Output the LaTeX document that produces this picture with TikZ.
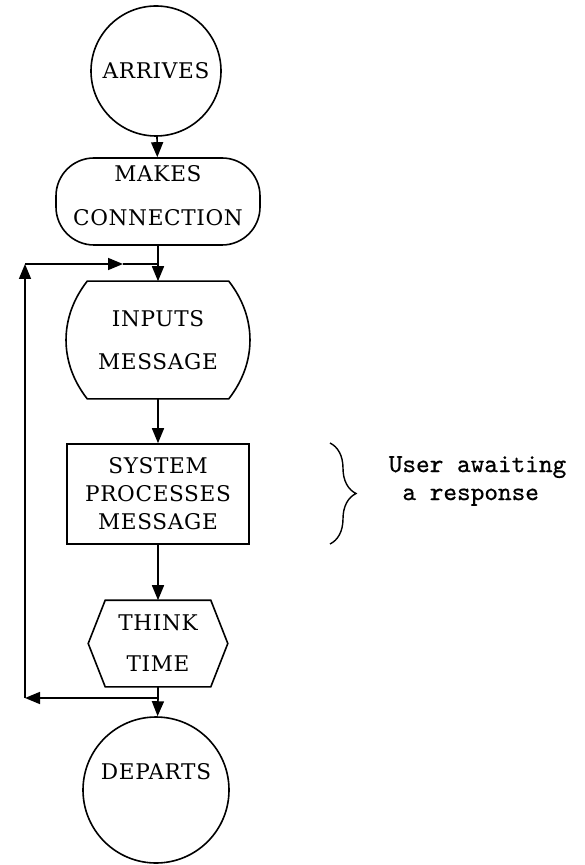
\documentclass[tikz,border=0pt]{standalone}
\usepackage{fontspec}
\usetikzlibrary{arrows.meta,decorations.pathreplacing}
% spaced serif capitals for the box texts
\newfontfamily\capsfont{DejaVu Serif}[LetterSpace=3]
\newfontfamily\notefont{lmmono10-regular}[Extension=.otf,FakeBold=0.6]
\begin{document}
\begin{tikzpicture}[x=0.5pt,y=-0.5pt,
  line width=0.8pt,
  every node/.style={inner sep=0pt},
  flow/.style={-{Triangle[length=7.5pt,width=6pt]}},
  caps/.style={font=\capsfont\fontsize{10.8}{#1}\selectfont, align=center},
  caps/.default=13,
]
\useasboundingbox (0,0) rectangle (584,865);

% terminals and process steps
\node[draw,circle,minimum size=65pt,caps] (arr) at (156,71) {ARRIVES};
\node[draw,rounded corners=19pt,minimum width=102pt,minimum height=43.5pt,
      label={[caps=22,yshift=3pt]center:MAKES\\CONNECTION}] (mk) at (158,201.5) {};
\node[minimum width=70pt,minimum height=58pt,caps=21.5] (inp) at (158,340) {INPUTS\\MESSAGE};
\draw (inp.north west) -- (inp.north east) to[bend left=38] (inp.south east)
      -- (inp.south west) to[bend left=38] (inp.north west) -- cycle;
\node[draw,minimum width=91pt,minimum height=50pt,caps=14] (sys) at (158,494)
      {SYSTEM\\PROCESSES\\MESSAGE};
\node[minimum width=52pt,minimum height=42.5pt,caps=20.5] (think) at (158,643.5) {THINK\\TIME};
\draw (think.north west) -- (think.north east) -- ([xshift=8.5pt]think.east)
      -- (think.south east) -- (think.south west) -- ([xshift=-8.5pt]think.west) -- cycle;
\node[draw,circle,minimum size=73pt,
      label={[caps,yshift=9pt]center:DEPARTS}] (dep) at (156,790) {};

% junctions and corners of the feedback loop
\coordinate (j1) at (158,264);
\coordinate (j2) at (158,698);
\coordinate (c1) at (25,698);
\coordinate (c2) at (25,264);
\coordinate (m1) at (123,264);

% main flow
\draw[flow] (arr) -- (mk);
\draw (mk) -- (j1);
\draw[flow] (j1) -- (inp);
\draw[flow] (inp) -- (sys);
\draw[flow] (sys) -- (think);
\draw (think) -- (j2);
\draw[flow] (j2) -- (dep);

% loop back to the input step
\draw[flow] (j2) -- (c1);
\draw[flow] (c1) -- (c2);
\draw[flow] (c2) -- (m1);
\draw (m1) -- (j1);

% waiting-period annotation
\coordinate (b1) at (330,443);
\coordinate (b2) at (330,544);
\draw[line width=0.7pt,decorate,decoration={brace,amplitude=13pt}] (b1) -- (b2);
\node[font=\notefont\fontsize{13}{14}\selectfont,align=left,anchor=west] (ua) at (388,481)
      {User awaiting\\\ a response};
\end{tikzpicture}
\end{document}
